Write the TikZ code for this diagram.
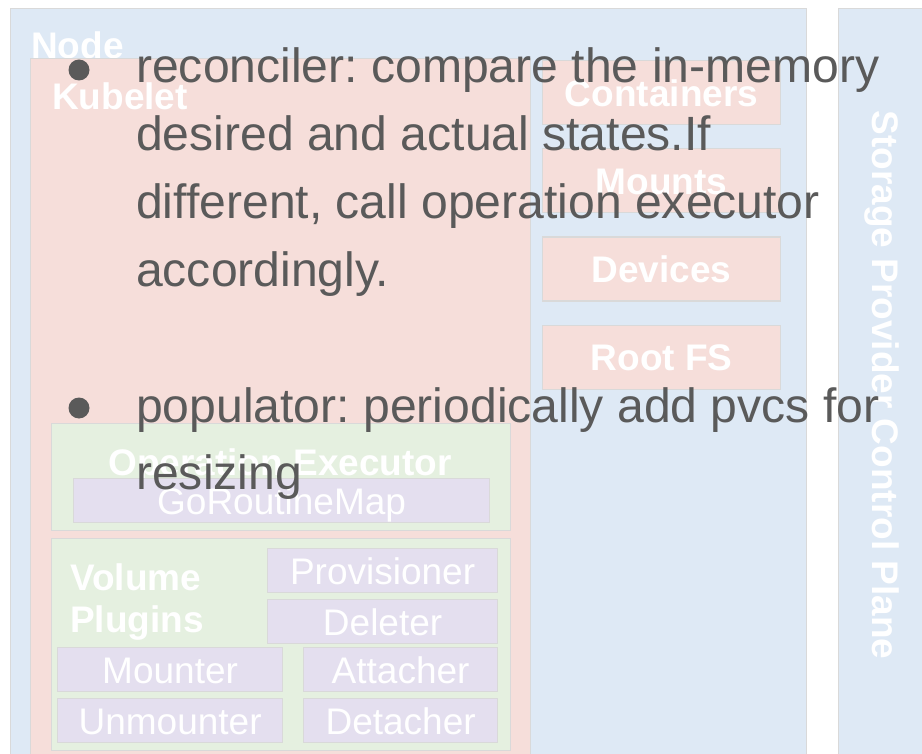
\documentclass[tikz,border=0pt]{standalone}
\usepackage{fontspec}
\setmainfont{Liberation Sans}
\usetikzlibrary{positioning}
\frenchspacing

\definecolor{nodeblue}{HTML}{DEE9F5}
\definecolor{kubepink}{HTML}{F6DEDA}
\definecolor{execgreen}{HTML}{E5F0E0}
\definecolor{plugpurple}{HTML}{E4DFEF}
\definecolor{edgegray}{HTML}{D9D9D9}
\definecolor{notegray}{HTML}{5A5A5A}

\tikzset{
    panel/.style={draw=edgegray, line width=1.2pt, inner sep=0pt, anchor=north west},
    heading/.style={text=white, inner sep=0pt, font=\fontsize{37}{42}\selectfont\bfseries},
    statebox/.style={panel, fill=kubepink, text=white, minimum width=238pt, minimum height=64pt,
        text height=27pt, text depth=0pt, font=\fontsize{37}{42}\selectfont\bfseries},
    pluginbox/.style={panel, fill=plugpurple, text=white, minimum height=44pt,
        text height=27pt, text depth=0pt, font=\fontsize{37}{42}\selectfont},
    note/.style={text=notegray, inner sep=0pt, anchor=base west, font=\fontsize{48.1}{68}\selectfont}
}

\begin{document}
\begin{tikzpicture}[x=1pt, y=-1pt]
    \clip (0,0) rectangle (922,754);

    % Outer panels
    \node[panel, fill=nodeblue, minimum width=796pt, minimum height=760pt] (node) at (10,8) {};
    \node[panel, fill=nodeblue, minimum width=100pt, minimum height=760pt] (plane) at (838,8) {};
    \node[heading, anchor=base west] (nodelbl) at (31,59) {Node};
    \node[heading, anchor=base, rotate=-90] (planelbl) at (872,385) {Storage Provider Control Plane};

    % Kubelet
    \node[panel, fill=kubepink, minimum width=500pt, minimum height=720pt] (kubelet) at (30,58) {};
    \node[heading, anchor=base west] (kubeletlbl) at (52,110) {Kubelet};

    % Node state
    \node[statebox]                       (containers) at (542,60) {Containers};
    \node[statebox, below=23pt of containers] (mounts)  {Mounts};
    \node[statebox, below=23pt of mounts]     (devices) {Devices};
    \node[statebox, below=23pt of devices]    (rootfs)  {Root FS};

    % Operation executor
    \node[panel, fill=execgreen, minimum width=459pt, minimum height=107pt] (executor) at (51,423) {};
    \node[heading, anchor=base] (executorlbl) at (280,475) {Operation Executor};
    \node[pluginbox, minimum width=416pt] (routinemap) at (73,478) {GoRoutineMap};

    % Volume plugins
    \node[panel, fill=execgreen, minimum width=459pt, minimum height=212pt] (plugins) at (51,538) {};
    \node[heading, anchor=base west] (pluginslbl1) at (70,590) {Volume};
    \node[heading, anchor=base west] (pluginslbl2) at (70,632) {Plugins};
    \node[pluginbox, minimum width=230pt]                        (provisioner) at (267,548) {Provisioner};
    \node[pluginbox, minimum width=230pt, below=6pt of provisioner] (deleter)   {Deleter};
    \node[pluginbox, minimum width=225pt]                        (mounter)     at (57,647) {Mounter};
    \node[pluginbox, minimum width=225pt, below=6pt of mounter]  (unmounter)   {Unmounter};
    \node[pluginbox, minimum width=194pt]                        (attacher)    at (303,647) {Attacher};
    \node[pluginbox, minimum width=194pt, below=6pt of attacher] (detacher)    {Detacher};

    % Notes on top
    \fill[notegray] (79,70) circle (10.5pt);
    \node[note] (rec1) at (136,83)  {reconciler: compare the in-memory};
    \node[note] (rec2) at (136,151) {desired and actual states.If};
    \node[note] (rec3) at (136,219) {different, call operation executor};
    \node[note] (rec4) at (136,287) {accordingly.};

    \fill[notegray] (79,408) circle (10.5pt);
    \node[note] (pop1) at (136,422) {populator: periodically add pvcs for};
    \node[note] (pop2) at (136,489) {resizing};
\end{tikzpicture}
\end{document}
